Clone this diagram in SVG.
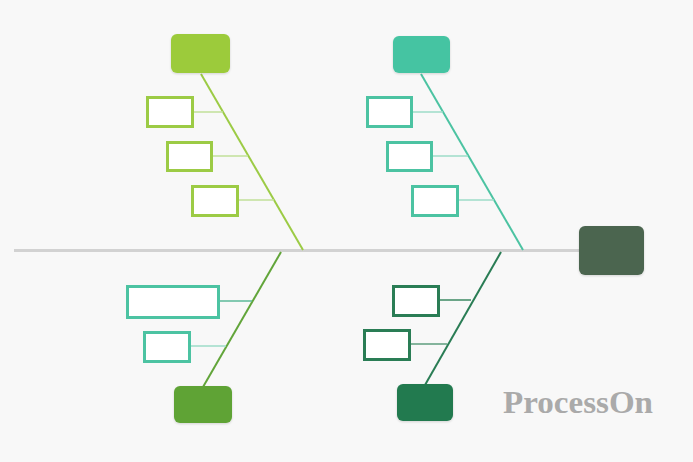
<svg xmlns="http://www.w3.org/2000/svg" width="693" height="462" viewBox="0 0 693 462">
<defs>
<style>
.sub{fill:#ffffff;stroke-width:3}
.cat{stroke:none}
.bone{fill:none;stroke-width:2}
.tw{fill:none;stroke-width:1.5}
</style>
<filter id="sh" x="-20%" y="-20%" width="140%" height="150%">
<feDropShadow dx="0" dy="1" stdDeviation="1.2" flood-color="#000" flood-opacity="0.15"/>
</filter>
</defs>
<rect x="0" y="0" width="693" height="462" fill="#f8f8f8"/>
<g id="connectors">
<line x1="14" y1="250.5" x2="580" y2="250.5" stroke="#d2d2d2" stroke-width="3"/>
<line class="bone" x1="201" y1="74" x2="303" y2="250" stroke="#9ccb45"/>
<line class="tw" x1="194" y1="112" x2="223" y2="112" stroke="#c2e09a"/>
<line class="tw" x1="213" y1="156" x2="248" y2="156" stroke="#c2e09a"/>
<line class="tw" x1="239" y1="200" x2="274" y2="200" stroke="#c2e09a"/>
<line class="bone" x1="421" y1="74" x2="523" y2="250" stroke="#4cc3a2"/>
<line class="tw" x1="413" y1="112" x2="443" y2="112" stroke="#9edcc8"/>
<line class="tw" x1="433" y1="156" x2="468" y2="156" stroke="#9edcc8"/>
<line class="tw" x1="459" y1="200" x2="494" y2="200" stroke="#9edcc8"/>
<line class="bone" x1="281" y1="252" x2="203" y2="387" stroke="#62a53a"/>
<line class="tw" x1="220" y1="301" x2="252" y2="301" stroke="#5dba9a" stroke-width="2"/>
<line class="tw" x1="191" y1="346" x2="226" y2="346" stroke="#9edcc8"/>
<line class="bone" x1="501" y1="252" x2="425" y2="385" stroke="#2a7d55"/>
<line class="tw" x1="440" y1="300" x2="471" y2="300" stroke="#3c8a63"/>
<line class="tw" x1="411" y1="344" x2="447" y2="344" stroke="#5e9e7e"/>
</g>
<g id="head"><rect class="cat" x="579" y="226" width="65" height="49" rx="6" fill="#4c6550" filter="url(#sh)"/></g>
<g id="cat1"><rect class="cat" x="171" y="34" width="59" height="39" rx="6" fill="#9ccb3b" filter="url(#sh)"/></g>
<g id="cat1-a"><rect class="sub" x="147.5" y="97.5" width="45" height="29" stroke="#9ccb45"/></g>
<g id="cat1-b"><rect class="sub" x="167.5" y="142.5" width="44" height="28" stroke="#9ccb45"/></g>
<g id="cat1-c"><rect class="sub" x="192.5" y="186.5" width="45" height="29" stroke="#9ccb45"/></g>
<g id="cat2"><rect class="cat" x="393" y="36" width="57" height="37" rx="6" fill="#45c4a2" filter="url(#sh)"/></g>
<g id="cat2-a"><rect class="sub" x="367.5" y="97.5" width="44" height="29" stroke="#4cc3a2"/></g>
<g id="cat2-b"><rect class="sub" x="387.5" y="142.5" width="44" height="28" stroke="#4cc3a2"/></g>
<g id="cat2-c"><rect class="sub" x="412.5" y="186.5" width="45" height="29" stroke="#4cc3a2"/></g>
<g id="cat3"><rect class="cat" x="174" y="386" width="58" height="37" rx="6" fill="#5fa336" filter="url(#sh)"/></g>
<g id="cat3-a"><rect class="sub" x="127.5" y="286.5" width="91" height="31" stroke="#4cc3a2"/></g>
<g id="cat3-b"><rect class="sub" x="144.5" y="332.5" width="45" height="29" stroke="#4cc3a2"/></g>
<g id="cat4"><rect class="cat" x="397" y="384" width="56" height="37" rx="6" fill="#217a50" filter="url(#sh)"/></g>
<g id="cat4-a"><rect class="sub" x="393.5" y="286.5" width="45" height="29" stroke="#2a7d55"/></g>
<g id="cat4-b"><rect class="sub" x="364.5" y="330.5" width="45" height="29" stroke="#2a7d55"/></g>
<text x="503" y="413" font-family="'Liberation Serif', serif" font-weight="bold" font-size="32" fill="#aaaaaa" textLength="150" lengthAdjust="spacingAndGlyphs">ProcessOn</text>
</svg>
